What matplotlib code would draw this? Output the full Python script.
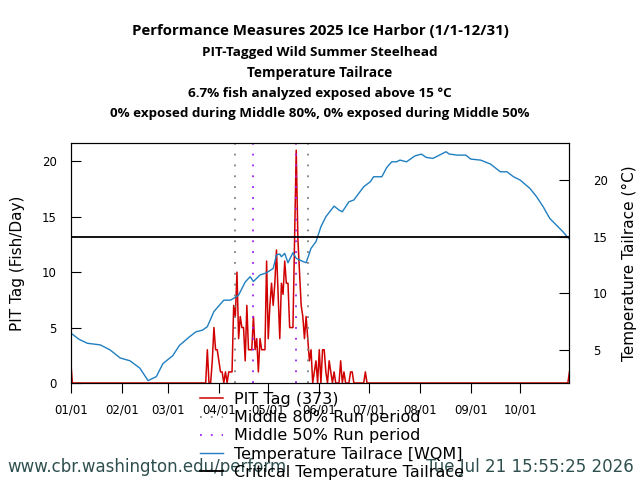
import matplotlib
matplotlib.use('Agg')
import matplotlib.pyplot as plt
import matplotlib.dates as mdates
import pandas as pd

START = pd.Timestamp('2025-01-01')

# daily PIT tag counts (day offset from Jan 1)
pit_days = [0, 1] + list(range(82, 181)) + [302, 303]
pit_counts = [2, 0,
              0, 3, 0, 0, 2, 5, 3, 3, 2, 1, 1, 0, 1, 0, 1, 1, 1, 7, 6, 10,
              4, 6, 5, 5, 2, 7, 3, 3, 3, 6, 3, 4, 1, 4, 3, 3, 3, 11, 4, 7,
              9, 7, 9, 12, 8, 4, 9, 8, 11, 9, 9, 5, 5, 5, 13, 21, 13, 10, 7, 6,
              4, 6, 4, 2, 3, 0, 1, 2, 0, 3, 0, 3, 3, 1, 0, 2, 1, 0, 1, 0,
              0, 0, 2, 0, 1, 0, 0, 0, 1, 1, 0, 0, 0, 0, 0, 0, 0, 1, 0,
              0, 1]

# tailrace temperature (day offset, deg C)
temp_days = [0, 5, 10, 18, 24, 30, 36, 42, 47, 52, 56, 62, 66, 72, 76, 80,
             83, 87, 93, 97, 99, 102, 106, 109, 111, 115, 119, 123, 125, 127,
             128, 130, 132, 135, 137, 140, 143, 146, 149, 152, 155, 160, 163,
             165, 169, 172, 178, 182, 184, 189, 192, 195, 198, 200, 204, 209,
             213, 216, 220, 224, 228, 230, 235, 240, 243, 249, 255, 261, 265,
             269, 273, 279, 283, 287, 291, 295, 299, 303]
temp_vals = [6.5, 5.95, 5.6, 5.45, 5.0, 4.3, 4.05, 3.4, 2.3, 2.65, 3.8, 4.5,
             5.4, 6.15, 6.6, 6.75, 7.06, 8.4, 9.4, 9.4, 9.56, 9.85, 11.0,
             11.47, 11.05, 11.62, 11.82, 12.2, 13.4, 13.47, 13.23, 13.53, 12.7,
             13.59, 13.09, 12.88, 12.7, 13.97, 14.56, 15.88, 16.76, 17.7,
             17.35, 17.2, 18.08, 18.24, 19.41, 19.85, 20.29, 20.29, 21.11,
             21.61, 21.61, 21.76, 21.61, 22.12, 22.29, 22.0, 21.91, 22.2, 22.5,
             22.29, 22.2, 22.2, 21.85, 21.76, 21.41, 20.73, 20.73, 20.29, 20.0,
             19.26, 18.53, 17.65, 16.62, 16.03, 15.44, 14.77]

mid80 = ['2025-04-11', '2025-05-25']
mid50 = ['2025-04-22', '2025-05-18']
critical_temp = 15

title_lines = ['Performance Measures 2025 Ice Harbor (1/1-12/31)',
               'PIT-Tagged Wild Summer Steelhead',
               'Temperature Tailrace',
               '6.7% fish analyzed exposed above 15 \u00b0C',
               '0% exposed during Middle 80%, 0% exposed during Middle 50%']
title_baselines = [35.5, 56, 76.5, 97, 117.3]  # pixels from top
title_sizes = [10.8, 9.7, 9.8, 9.7, 9.6]


def main():
    pit_x = [START + pd.Timedelta(days=d) for d in pit_days]
    temp_x = [START + pd.Timedelta(days=d) for d in temp_days]

    fig = plt.figure(figsize=(6.4, 4.8), dpi=100)
    ax = fig.add_axes([0.1105, 0.2021, 0.7793, 0.5])
    ax2 = ax.twinx()

    red, = ax.plot(pit_x, pit_counts, color='#d00000', lw=1.1)
    for d in mid80:
        g = ax.axvline(pd.Timestamp(d), color='grey', lw=1.3, ls=(0, (1, 5)))
    for d in mid50:
        p = ax.axvline(pd.Timestamp(d), color='#a020f0', lw=1.3, ls=(0, (1, 5)))
    blue, = ax2.plot(temp_x, temp_vals, color='#1f7fc0', lw=1.0)
    crit = ax2.axhline(critical_temp, color='black', lw=1.3)

    ax.set_xlim(START, START + pd.Timedelta(days=303))
    ax.set_ylim(0, 21.65)
    ax2.set_ylim(2.09, 23.27)
    ax.set_yticks([0, 5, 10, 15, 20])
    ax2.set_yticks([5, 10, 15, 20])
    ax.xaxis.set_major_locator(mdates.MonthLocator())
    ax.xaxis.set_major_formatter(mdates.DateFormatter('%m/%d'))

    ax.tick_params(axis='x', direction='out', length=7, pad=8, labelsize=8.5)
    ax.tick_params(axis='y', direction='in', length=7, pad=10, labelsize=8.5)
    ax2.tick_params(axis='y', direction='in', length=7, pad=17, labelsize=8.5)

    ax.set_ylabel('PIT Tag (Fish/Day)', fontsize=11, labelpad=12)
    ax2.set_ylabel('Temperature Tailrace (\u00b0C)', fontsize=11, labelpad=10)

    for line, yb, fs in zip(title_lines, title_baselines, title_sizes):
        fig.text(0.5, 1 - yb / 480, line, ha='center', va='baseline',
                 fontsize=fs, fontweight='bold', family='Open Sans')

    fig.legend([red, g, p, blue, crit],
               ['PIT Tag (373)', 'Middle 80% Run period', 'Middle 50% Run period',
                'Temperature Tailrace [WQM]', 'Critical Temperature Tailrace'],
               loc='upper left', bbox_to_anchor=(0.3006, 0.2), frameon=False,
               fontsize=11.5, borderpad=0, labelspacing=0.2, handlelength=1.4,
               handletextpad=0.7)

    fig.text(0.012, 0.0175, 'www.cbr.washington.edu/perform', fontsize=12,
             color='#2f4f4f')
    fig.text(0.99, 0.0175, 'Tue Jul 21 15:55:25 2026', fontsize=12,
             color='#2f4f4f', ha='right')

    fig.savefig('out.png', dpi=100)


if __name__ == '__main__':
    main()
